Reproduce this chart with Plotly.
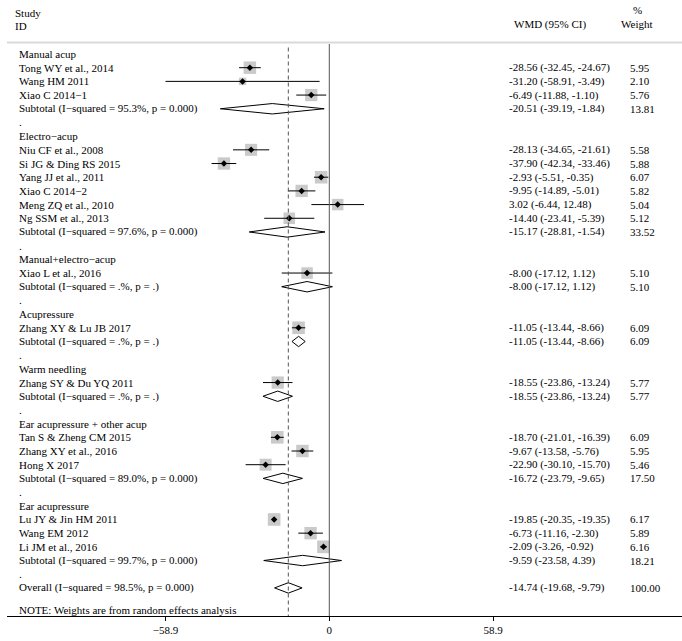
import plotly.graph_objects as go

# ---------------- data ----------------
group_names = ["Manual acup", "Electro−acup", "Manual+electro−acup", "Acupressure",
               "Warm needling", "Ear acupressure + other acup", "Ear acupressure"]

study_names = ["Tong WY et al., 2014", "Wang HM 2011", "Xiao C 2014−1",
               "Niu CF et al., 2008", "Si JG & Ding RS 2015", "Yang JJ et al., 2011",
               "Xiao C 2014−2", "Meng ZQ et al., 2010", "Ng SSM et al., 2013",
               "Xiao L et al., 2016",
               "Zhang XY & Lu JB 2017",
               "Zhang SY & Du YQ 2011",
               "Tan S & Zheng CM 2015", "Zhang XY et al., 2016", "Hong X 2017",
               "Lu JY & Jin HM 2011", "Wang EM 2012", "Li JM et al., 2016"]
study_group = [0, 0, 0, 1, 1, 1, 1, 1, 1, 2, 3, 4, 5, 5, 5, 6, 6, 6]
study_est = [-28.56, -31.20, -6.49, -28.13, -37.90, -2.93, -9.95, 3.02, -14.40,
             -8.00, -11.05, -18.55, -18.70, -9.67, -22.90, -19.85, -6.73, -2.09]
study_lo = [-32.45, -58.91, -11.88, -34.65, -42.34, -5.51, -14.89, -6.44, -23.41,
            -17.12, -13.44, -23.86, -21.01, -13.58, -30.10, -20.35, -11.16, -3.26]
study_hi = [-24.67, -3.49, -1.10, -21.61, -33.46, -0.35, -5.01, 12.48, -5.39,
            1.12, -8.66, -13.24, -16.39, -5.76, -15.70, -19.35, -2.30, -0.92]
study_weight = [5.95, 2.10, 5.76, 5.58, 5.88, 6.07, 5.82, 5.04, 5.12,
                5.10, 6.09, 5.77, 6.09, 5.95, 5.46, 6.17, 5.89, 6.16]

sub_i2 = ["95.3%", "97.6%", ".%", ".%", ".%", "89.0%", "99.7%"]
sub_p = ["0.000", "0.000", ".", ".", ".", "0.000", "0.000"]
sub_est = [-20.51, -15.17, -8.00, -11.05, -18.55, -16.72, -9.59]
sub_lo = [-39.19, -28.81, -17.12, -13.44, -23.86, -23.79, -23.58]
sub_hi = [-1.84, -1.54, 1.12, -8.66, -13.24, -9.65, 4.39]
sub_weight = [13.81, 33.52, 5.10, 6.09, 5.77, 17.50, 18.21]

overall_i2 = "98.5%"
overall_p = "0.000"
overall_est = -14.74
overall_lo = -19.68
overall_hi = -9.79
overall_weight = 100.00

tick_vals = [-58.9, 0, 58.9]
tick_text = ["−58.9", "0", "58.9"]

# ---------------- layout constants ----------------
W, H = 682, 641
ML, MR, MT, MB = 7, 0, 0, 25
PX_ZERO = 329.3          # pixel of x = 0
PX_PER_UNIT = 2.78
ROW0_PX = 54.0
ROW_H = 13.69
FONT = "Liberation Serif, Times New Roman, serif"
FS = 11

x_min = (ML - PX_ZERO) / PX_PER_UNIT
x_max = (W - MR - PX_ZERO) / PX_PER_UNIT
plot_h = H - MT - MB
y_top = (MT - ROW0_PX) / ROW_H
y_bot = (MT + plot_h - ROW0_PX) / ROW_H


def px_to_paper(px):
    return (px - ML) / (W - ML - MR)


def py_to_row(py):
    return (py - ROW0_PX) / ROW_H


COL_LABEL = px_to_paper(16.7)
COL_WMD = px_to_paper(506.5)
COL_W = px_to_paper(628)

# ---------------- build rows ----------------
rows = []  # (label, kind, est, lo, hi, weight)
for g, gname in enumerate(group_names):
    rows.append((gname, "header", None, None, None, None))
    for i, name in enumerate(study_names):
        if study_group[i] == g:
            rows.append((name, "study", study_est[i], study_lo[i], study_hi[i], study_weight[i]))
    rows.append((f"Subtotal (I−squared = {sub_i2[g]}, p = {sub_p[g]})", "diamond",
                 sub_est[g], sub_lo[g], sub_hi[g], sub_weight[g]))
    rows.append((".", "blank", None, None, None, None))
rows.append((f"Overall (I−squared = {overall_i2}, p = {overall_p})", "diamond",
             overall_est, overall_lo, overall_hi, overall_weight))

fig = go.Figure()
annotations = []


def add_text(x, y, text, anchor="left"):
    annotations.append(dict(x=x, y=y, xref="paper", yref="y", text=text, showarrow=False,
                            xanchor=anchor, yanchor="middle",
                            font=dict(family=FONT, size=FS, color="black")))


ci_x, ci_y = [], []
sq_x, sq_y, sq_s = [], [], []
dm_x, dm_y = [], []
DH = 0.38
for r, (label, kind, est, lo, hi, w) in enumerate(rows):
    add_text(COL_LABEL, r, label)
    if kind in ("study", "diamond"):
        add_text(COL_WMD, r, f"{est:.2f} ({lo:.2f}, {hi:.2f})")
        add_text(COL_W, r, f"{w:.2f}")
    if kind == "study":
        ci_x += [lo, hi, None]
        ci_y += [r, r, None]
        sq_x.append(est)
        sq_y.append(r)
        sq_s.append(5.1 * w ** 0.5)
    if kind == "diamond":
        dm_x += [lo, est, hi, est, lo, None]
        dm_y += [r, r - DH, r, r + DH, r, None]

note_row = py_to_row(610)
add_text(COL_LABEL, note_row, "NOTE: Weights are from random effects analysis")

# headers
add_text(px_to_paper(13), py_to_row(13.3), "Study")
add_text(px_to_paper(13), py_to_row(26), "ID")
add_text(px_to_paper(550), py_to_row(24.5), "WMD (95% CI)", anchor="center")
add_text(px_to_paper(637), py_to_row(9.5), "%", anchor="center")
add_text(px_to_paper(637), py_to_row(23.5), "Weight", anchor="center")

# traces
fig.add_trace(go.Scatter(x=sq_x, y=sq_y, mode="markers", hoverinfo="skip",
                         marker=dict(symbol="square", size=sq_s, color="#b3b3b3",
                                     line=dict(width=0))))
fig.add_trace(go.Scatter(x=ci_x, y=ci_y, mode="lines", hoverinfo="skip",
                         line=dict(color="black", width=1)))
fig.add_trace(go.Scatter(x=sq_x, y=sq_y, mode="markers", hoverinfo="skip",
                         marker=dict(symbol="diamond", size=5, color="black",
                                     line=dict(width=0))))
fig.add_trace(go.Scatter(x=dm_x, y=dm_y, mode="lines", hoverinfo="skip",
                         line=dict(color="black", width=1)))

shapes = [
    # top separator
    dict(type="line", xref="paper", yref="y", x0=0, x1=1,
         y0=py_to_row(42.5), y1=py_to_row(42.5), line=dict(color="#d9d9d9", width=2)),
    # null line
    dict(type="line", xref="x", yref="y", x0=0, x1=0,
         y0=py_to_row(44), y1=y_bot, line=dict(color="#555555", width=1)),
    # overall estimate dashed line
    dict(type="line", xref="x", yref="y", x0=overall_est, x1=overall_est,
         y0=py_to_row(47.5), y1=y_bot, line=dict(color="#555555", width=1, dash="4px,3px")),
]

fig.update_layout(
    width=W, height=H,
    margin=dict(l=ML, r=MR, t=MT, b=MB, pad=0),
    plot_bgcolor="white", paper_bgcolor="white",
    showlegend=False,
    annotations=annotations,
    shapes=shapes,
    xaxis=dict(range=[x_min, x_max], tickvals=tick_vals, ticktext=tick_text,
               ticks="outside", ticklen=4, tickcolor="black", tickwidth=1,
               showline=True, linecolor="black", linewidth=1,
               showgrid=False, zeroline=False,
               tickfont=dict(family=FONT, size=FS, color="black")),
    yaxis=dict(range=[y_bot, y_top], visible=False, showgrid=False, zeroline=False),
)

fig.write_html("out.html",
               config={"displayModeBar": False, "staticPlot": True},
               post_script="document.body.style.margin='0px';"
                           "document.body.style.overflow='hidden';")
